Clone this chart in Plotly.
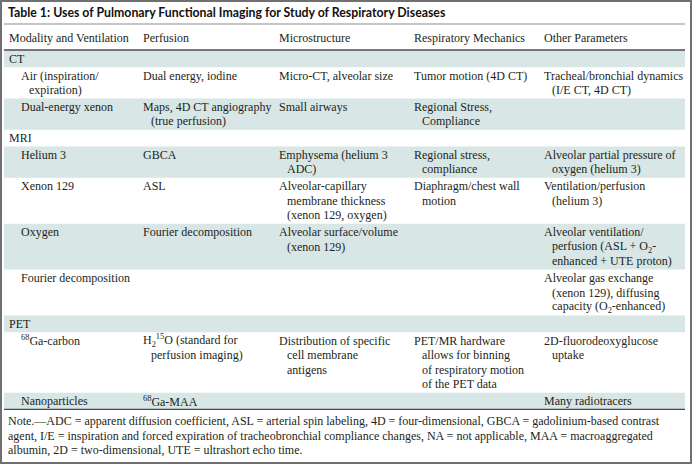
import plotly.graph_objects as go

# ---------------- data (text content) ----------------
title_text = "Table 1: Uses of Pulmonary Functional Imaging for Study of Respiratory Diseases"
header = ["Modality and Ventilation", "Perfusion", "Microstructure",
          "Respiratory Mechanics", "Other Parameters"]

# each row: is_section flag, and 5 cells (list of wrapped lines)
row_is_section = [True, False, False, True, False, False, False, False, True, False, False]
col_modality = [
    ["CT"],
    ["Air (inspiration/", "expiration)"],
    ["Dual-energy xenon"],
    ["MRI"],
    ["Helium 3"],
    ["Xenon 129"],
    ["Oxygen"],
    ["Fourier decomposition"],
    ["PET"],
    ["<sup>68</sup>Ga-carbon"],
    ["Nanoparticles"],
]
col_perfusion = [
    [],
    ["Dual energy, iodine"],
    ["Maps, 4D CT angiography", "(true perfusion)"],
    [],
    ["GBCA"],
    ["ASL"],
    ["Fourier decomposition"],
    [],
    [],
    ["H<sub>2</sub><sup>15</sup>O (standard for", "perfusion imaging)"],
    ["<sup>68</sup>Ga-MAA"],
]
col_micro = [
    [],
    ["Micro-CT, alveolar size"],
    ["Small airways"],
    [],
    ["Emphysema (helium 3", "ADC)"],
    ["Alveolar-capillary", "membrane thickness", "(xenon 129, oxygen)"],
    ["Alveolar surface/volume", "(xenon 129)"],
    [],
    [],
    ["Distribution of specific", "cell membrane", "antigens"],
    [],
]
col_mech = [
    [],
    ["Tumor motion (4D CT)"],
    ["Regional Stress,", "Compliance"],
    [],
    ["Regional stress,", "compliance"],
    ["Diaphragm/chest wall", "motion"],
    [],
    [],
    [],
    ["PET/MR hardware", "allows for binning", "of respiratory motion", "of the PET data"],
    [],
]
col_other = [
    [],
    ["Tracheal/bronchial dynamics", "(I/E CT, 4D CT)"],
    [],
    [],
    ["Alveolar partial pressure of", "oxygen (helium 3)"],
    ["Ventilation/perfusion", "(helium 3)"],
    ["Alveolar ventilation/", "perfusion (ASL + O<sub>2</sub>-", "enhanced + UTE proton)"],
    ["Alveolar gas exchange", "(xenon 129), diffusing", "capacity (O<sub>2</sub>-enhanced)"],
    [],
    ["2D-fluorodeoxyglucose", "uptake"],
    ["Many radiotracers"],
]
note_lines = [
    "Note.\u2014ADC = apparent diffusion coefficient, ASL = arterial spin labeling, 4D = four-dimensional, GBCA = gadolinium-based contrast",
    "agent, I/E = inspiration and forced expiration of tracheobronchial compliance changes, NA = not applicable, MAA = macroaggregated",
    "albumin, 2D = two-dimensional, UTE = ultrashort echo time.",
]

# ---------------- layout constants ----------------
W, H = 692, 464
X0, X1 = 4, 685
col_x = [19, 141, 277, 412, 542]
section_x = 7
hang = 8
line_h = 14.6
row_pad = 2.1
body_top = 50.5
shade = "#d8e6e6"
txt_color = "#231f20"
serif = "Liberation Serif, 'Times New Roman', Times, serif"
fs = 12

fig = go.Figure()
shapes = []
ann = []

def add_text(x, y, s, size=fs, family=serif, color=txt_color, bold=False):
    ann.append(dict(x=x, y=y, xref="x", yref="y", text=("<b>%s</b>" % s) if bold else s,
                    showarrow=False, xanchor="left", yanchor="middle",
                    font=dict(family=family, size=size, color=color)))

# title
add_text(6, 12, title_text, size=12.3, family="Lato, sans-serif", bold=True, color="#111")
shapes.append(dict(type="line", x0=X0, x1=X1, y0=24, y1=24, xref="x", yref="y",
                   line=dict(color="#8a8a8a", width=1)))
# header
hdr_x = [section_x] + col_x[1:]
for x, h in zip(hdr_x, header):
    add_text(x, 37.5, h)
shapes.append(dict(type="line", x0=X0, x1=X1, y0=50, y1=50, xref="x", yref="y",
                   line=dict(color="#4a4a4a", width=1.3)))

cols = [col_modality, col_perfusion, col_micro, col_mech, col_other]
y = body_top
for i in range(len(row_is_section)):
    n = max(len(c[i]) for c in cols)
    h = row_pad + line_h * n
    if i % 2 == 0:
        shapes.append(dict(type="rect", x0=X0, x1=X1, y0=y, y1=y + h, xref="x", yref="y",
                           fillcolor=shade, line=dict(width=0), layer="below"))
    for j, c in enumerate(cols):
        for k, s in enumerate(c[i]):
            if j == 0 and row_is_section[i]:
                x = section_x
            else:
                x = col_x[j] + (hang if k > 0 else 0)
            add_text(x, y + row_pad / 2 + line_h * (k + 0.5), s)
    y += h

bottom = y
shapes.append(dict(type="line", x0=X0, x1=X1, y0=bottom, y1=bottom, xref="x", yref="y",
                   line=dict(color="#4a4a4a", width=1.3)))
for k, s in enumerate(note_lines):
    add_text(6, bottom + 12 + 14.5 * k, s)

# outer frame
shapes.append(dict(type="rect", x0=1, x1=W - 1, y0=1, y1=H - 1, xref="x", yref="y",
                   line=dict(color="#707070", width=2)))

fig.update_layout(
    width=W, height=H, margin=dict(l=0, r=0, t=0, b=0),
    paper_bgcolor="white", plot_bgcolor="white",
    xaxis=dict(range=[0, W], visible=False, fixedrange=True),
    yaxis=dict(range=[H, 0], visible=False, fixedrange=True),
    shapes=shapes, annotations=ann, showlegend=False,
)
fig.write_html("out.html", config={"displayModeBar": False},
               post_script="document.body.style.margin='0';document.body.style.padding='0';")
